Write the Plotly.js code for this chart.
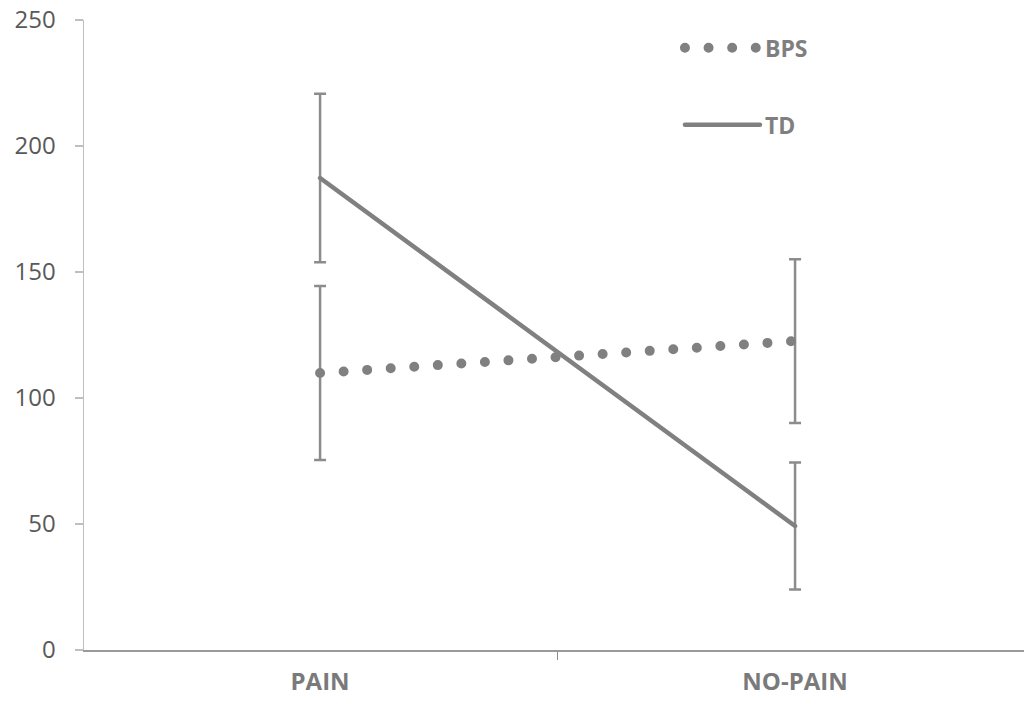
<!DOCTYPE html>
<html>
<head>
<meta charset="utf-8">
<script src="https://cdn.plot.ly/plotly-3.0.1.min.js"></script>
<style>
html,body{margin:0;padding:0;background:#fff;}
#chart{width:1024px;height:705px;}
.scatterlayer .js-line, .legend .js-line { stroke-linecap: round !important; }
</style>
</head>
<body>
<div id="chart"></div>
<script>
const categories = ["PAIN", "NO-PAIN"];
const bpsValues = [109.9, 122.6];
const bpsErrors = [34.5, 32.5];
const tdValues = [187.3, 49.2];
const tdErrors = [33.4, 25.2];
const yTicks = [0, 50, 100, 150, 200, 250];

const lineColor = "#808080";
const errColor = "#8c8c8c";

const traces = [
  {
    name: "BPS",
    x: categories,
    y: bpsValues,
    type: "scatter",
    mode: "lines",
    legendgroup: "a",
    line: {color: lineColor, width: 10, dash: "0px,23.6px"},
    error_y: {type: "data", array: bpsErrors, visible: true, color: errColor, thickness: 2.5, width: 6}
  },
  {
    name: "TD",
    x: categories,
    y: tdValues,
    type: "scatter",
    mode: "lines",
    legendgroup: "b",
    line: {color: lineColor, width: 4.5},
    error_y: {type: "data", array: tdErrors, visible: true, color: errColor, thickness: 2.5, width: 6}
  }
];

const layout = {
  width: 1024,
  height: 705,
  margin: {l: 84, r: 0, t: 20, b: 55},
  paper_bgcolor: "#ffffff",
  plot_bgcolor: "#ffffff",
  font: {family: "Open Sans, sans-serif", color: "#595959"},
  showlegend: true,
  legend: {
    x: 0.634, y: 0.99, xanchor: "left", yanchor: "top",
    bgcolor: "rgba(0,0,0,0)",
    itemwidth: 75,
    tracegroupgap: 44,
    font: {family: "Open Sans, sans-serif", size: 23, color: "#7f7f7f", weight: "bold"}
  },
  xaxis: {
    type: "category",
    range: [-0.497, 1.482],
    showgrid: false,
    zeroline: false,
    showline: true,
    linecolor: "#9a9a9a",
    linewidth: 1.5,
    ticks: "outside",
    tickson: "boundaries",
    ticklen: 8,
    tickcolor: "#8a8a8a",
    tickwidth: 1.5,
    tickfont: {family: "Open Sans, sans-serif", size: 24, color: "#7a7a7a", weight: "bold"},
    ticklabelstandoff: 10
  },
  yaxis: {
    range: [0, 250],
    tickvals: yTicks,
    ticktext: yTicks.map(String),
    showgrid: false,
    zeroline: false,
    showline: true,
    linecolor: "#bfbfbf",
    linewidth: 1.5,
    ticks: "outside",
    ticklen: 8,
    tickcolor: "#bfbfbf",
    tickwidth: 1.5,
    tickfont: {family: "Open Sans, sans-serif", size: 24, color: "#595959"},
    ticklabelstandoff: 14
  }
};

Plotly.newPlot("chart", traces, layout, {displayModeBar: false, staticPlot: true});
</script>
</body>
</html>
